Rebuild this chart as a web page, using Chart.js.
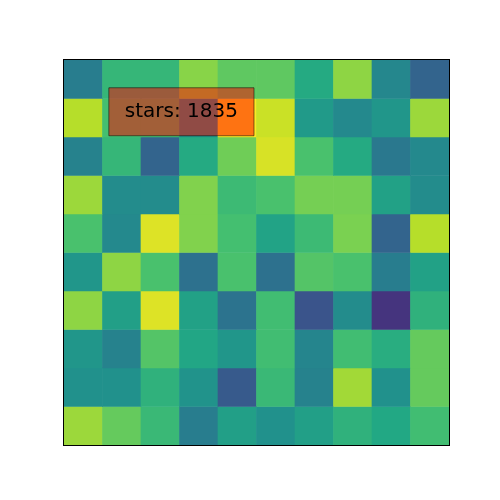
<!DOCTYPE html>
<html>
<head>
<meta charset="utf-8">
<script src="https://cdn.jsdelivr.net/npm/chart.js@4.4.0/dist/chart.umd.min.js"></script>
<style>
  html, body { margin: 0; padding: 0; background: #fff; }
  #wrap { width: 500px; height: 500px; }
</style>
</head>
<body>
<div id="wrap"><canvas id="heat"></canvas></div>
<script>
// columns, left to right
const columns = ['0', '1', '2', '3', '4', '5', '6', '7', '8', '9'];

// star counts per row, top row first
const starsRow0 = [771, 1211, 1211, 1505, 1376, 1376, 1119, 1523, 844, 587];
const starsRow1 = [1633, 1285, 1285, 954, 1835, 1688, 991, 862, 954, 1560];
const starsRow2 = [807, 1211, 587, 1119, 1431, 1725, 1303, 1119, 734, 862];
const starsRow3 = [1560, 881, 881, 1486, 1248, 1303, 1450, 1450, 1046, 881];
const starsRow4 = [1303, 862, 1743, 1486, 1285, 1064, 1248, 1468, 587, 1633];
const starsRow5 = [954, 1523, 1303, 679, 1303, 679, 1340, 1303, 771, 1046];
const starsRow6 = [1523, 1028, 1743, 1046, 697, 1266, 477, 881, 275, 1174];
const starsRow7 = [954, 807, 1340, 1083, 954, 1266, 826, 1266, 1138, 1395];
const starsRow8 = [918, 918, 1174, 936, 514, 1229, 807, 1578, 918, 1395];
const starsRow9 = [1560, 1395, 1229, 771, 1028, 918, 1028, 1174, 1101, 1266];

const rows = [starsRow0, starsRow1, starsRow2, starsRow3, starsRow4,
              starsRow5, starsRow6, starsRow7, starsRow8, starsRow9];

const starsMin = 0;
const starsMax = 1835;

// hovered cell
const hoverRow = 1;
const hoverCol = 4;

const viridisStops = [
  [68, 1, 84], [72, 36, 117], [65, 68, 135], [53, 95, 141], [42, 120, 142],
  [33, 145, 140], [34, 168, 132], [68, 191, 112], [122, 209, 81], [189, 223, 38],
  [253, 231, 37]
];

function viridis(v) {
  let t = (v - starsMin) / (starsMax - starsMin);
  t = Math.max(0, Math.min(1, t));
  const p = t * (viridisStops.length - 1);
  const i = Math.min(Math.floor(p), viridisStops.length - 2);
  const f = p - i;
  const a = viridisStops[i], b = viridisStops[i + 1];
  const c = a.map((x, k) => Math.round(x + (b[k] - x) * f));
  return 'rgb(' + c.join(',') + ')';
}

const datasets = rows.map(function(row, r) {
  return {
    label: 'row ' + r,
    data: row.map((v, c) => ({ x: columns[c], y: [r, r + 1], v: v })),
    backgroundColor: row.map(viridis),
    borderWidth: 0,
    barPercentage: 1,
    categoryPercentage: 1,
    grouped: false
  };
});

Chart.Tooltip.positioners.cell = function(items) {
  if (!items.length) return false;
  const el = items[0].element;
  return { x: el.x + el.width / 2 - 2.5, y: (el.y + el.base) / 2 - 6 };
};

const framePlugin = {
  id: 'frame',
  afterDatasetsDraw(chart) {
    const a = chart.chartArea;
    const ctx = chart.ctx;
    ctx.save();
    ctx.strokeStyle = '#000';
    ctx.lineWidth = 1;
    ctx.strokeRect(Math.round(a.left) - 0.5, Math.round(a.top) - 0.5,
                   Math.round(a.right - a.left) + 1, Math.round(a.bottom - a.top) + 1);
    ctx.restore();
  }
};

const chart = new Chart(document.getElementById('heat').getContext('2d'), {
  type: 'bar',
  data: { labels: columns, datasets: datasets },
  options: {
    responsive: true,
    maintainAspectRatio: false,
    animation: false,
    events: [],
    layout: { padding: { left: 64, top: 60, right: 51, bottom: 55 } },
    scales: {
      x: { type: 'category', display: false, offset: true },
      y: { type: 'linear', min: 0, max: 10, reverse: true, display: false }
    },
    plugins: {
      legend: { display: false },
      tooltip: {
        position: 'cell',
        xAlign: 'right',
        yAlign: 'center',
        caretSize: 0,
        caretPadding: 0,
        cornerRadius: 0,
        backgroundColor: 'rgba(255, 0, 0, 0.5)',
        borderColor: 'rgba(0, 0, 0, 0.5)',
        borderWidth: 1,
        displayColors: false,
        padding: { x: 16, y: 12 },
        bodyColor: '#000',
        bodyFont: { family: 'DejaVu Sans', size: 20 },
        callbacks: {
          title: () => '',
          label: (item) => 'stars: ' + item.raw.v
        }
      }
    }
  },
  plugins: [framePlugin]
});

chart.tooltip.setActiveElements([{ datasetIndex: hoverRow, index: hoverCol }], { x: 0, y: 0 });
chart.update();
</script>
</body>
</html>
